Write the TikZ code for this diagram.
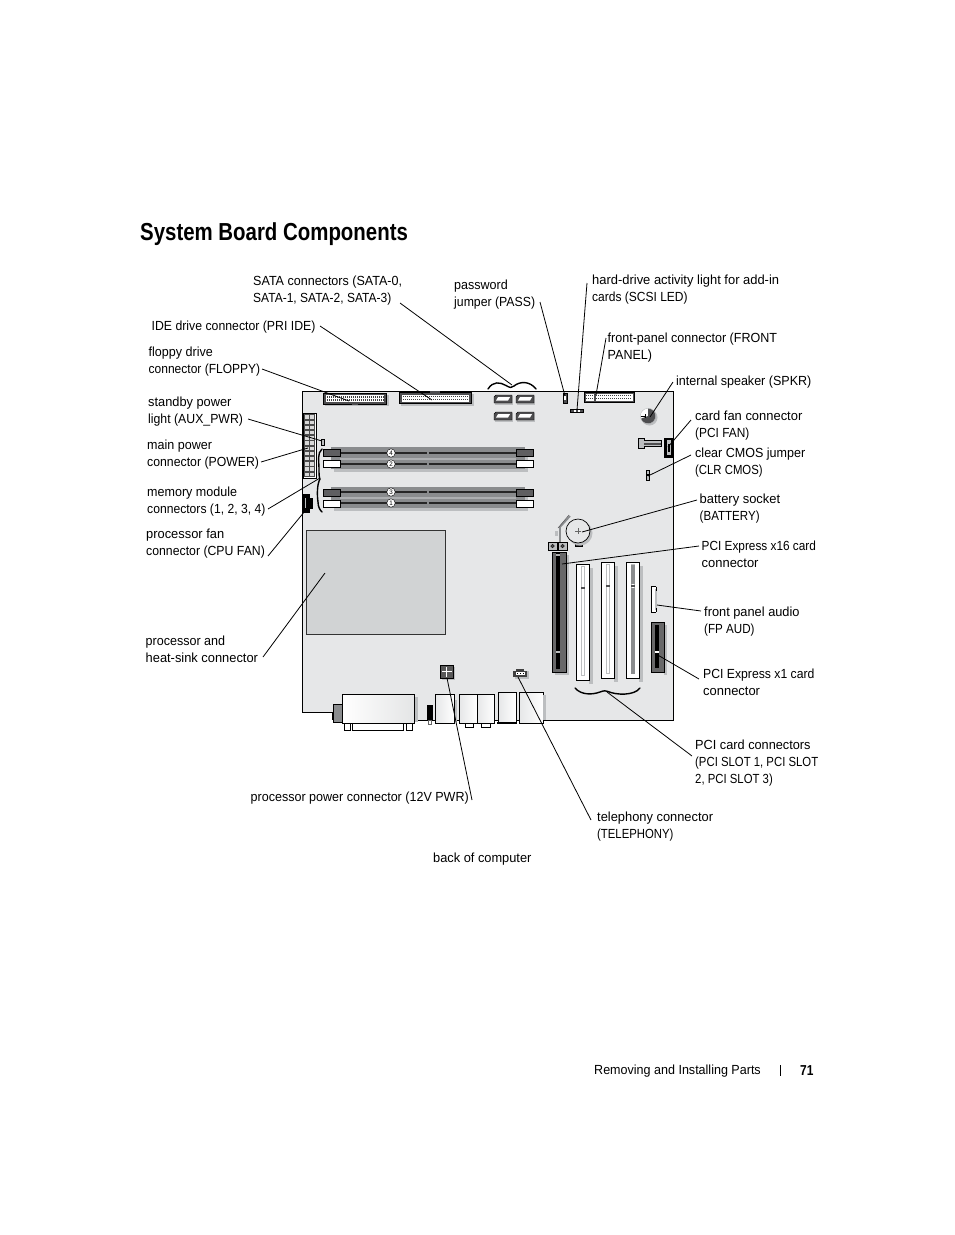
\documentclass[tikz,border=0pt]{standalone}
\usepackage{fontspec}
\setmainfont{Liberation Sans}[FakeStretch=0.95]
\newfontfamily\titlefont{Liberation Sans}[FakeStretch=0.83]
\newcommand\st[1]{\fontspec{Liberation Sans}[FakeStretch=#1]}
\usetikzlibrary{shadings}
\definecolor{board}{HTML}{E6E7E8}
\definecolor{cpu}{HTML}{D1D3D4}
\definecolor{shad}{HTML}{BCBEC0}
\definecolor{dimm}{HTML}{8A8C8E}
\definecolor{dark}{HTML}{4D4D4F}
\tikzset{
  lbl/.style={inner sep=0pt,anchor=west,align=left,font=\fontsize{13.2}{16.9}\selectfont},
  lead/.style={draw=black,line width=0.8pt},
  edge/.style={draw=black,line width=0.8pt},
  part/.style={draw=black,line width=0.6pt},
  whitepart/.style={draw=black,line width=0.7pt,fill=white},
  curly/.style={draw=black,line width=1.4pt,line cap=round},
}
\begin{document}
\begin{tikzpicture}[x=1pt,y=-1pt]
\useasboundingbox (0,0) rectangle (954,1235);
\fill[white] (0,0) rectangle (954,1235);
% title and footer
\node[inner sep=0pt,anchor=base west,font=\titlefont\fontsize{24.6}{28}\bfseries\selectfont] (title) at (140,240) {System Board Components};
\node[inner sep=0pt,anchor=base west,font=\fontsize{13.2}{15}\selectfont] (foot) at (594,1074.5) {Removing and Installing Parts};
\node[inner sep=0pt,anchor=base west,font=\titlefont\fontsize{14.4}{15}\bfseries\selectfont] (page) at (800,1075) {71};
\coordinate (barA) at (780,1065);
\coordinate (barB) at (780,1076);
\draw[line width=0.6pt] (barA) -- (barB);
% board
\filldraw[edge,fill=board] (302,391) -- (673,391) -- (673,720) -- (342,720) -- (342,712) -- (302,712) -- cycle;
% floppy and IDE
\fill[shad] (325,395) rectangle (389,406);
\filldraw[part,fill=dark] (323.5,393) rectangle (386.5,404);
\fill[white] (326,395) rectangle (384,402);
\foreach \i in {0,...,28} {\fill[black!75] (326.5+2*\i,396) rectangle +(1.2,1.8); \fill[black!75] (326.5+2*\i,399) rectangle +(1.2,1.8);}
\fill[dark] (352,402) rectangle (358,405);
\fill[shad] (401,394) rectangle (474,406);
\filldraw[part,fill=dark] (399.5,392.5) rectangle (471.5,403.5);
\fill[white] (402,395) rectangle (469,401.5);
\foreach \i in {0,...,32} {\fill[black!75] (402.5+2*\i,395.5) rectangle +(1.2,1.8); \fill[black!75] (402.5+2*\i,398.5) rectangle +(1.2,1.8);}
\fill[dark] (430,391) rectangle (440,393);
% SATA
\foreach \x/\y in {494/395,516/395,494/412,516/412} {
  \fill[shad] (\x+1,\y+1) rectangle (\x+19,\y+9.5);
  \filldraw[part,fill=dark,line width=0.4pt] (\x+2,\y) -- (\x+18,\y) -- (\x+18,\y+8) -- (\x,\y+8) -- (\x,\y+2) -- cycle;
  \fill[white] (\x+4,\y+2.2) -- (\x+16,\y+2.2) -- (\x+14,\y+5.5) -- (\x+2,\y+5.5) -- cycle;
}
% curly brace top
\draw[curly] (488,389) .. controls (493,381) and (500,382) .. (506,385.5) .. controls (510,388) and (512,388) .. (514,386) .. controls (520,381) and (530,381) .. (536,389);
% small parts top
\filldraw[part,fill=dark] (563,393) rectangle (567,403);
\fill[white] (564.3,396) rectangle (565.8,400);
\filldraw[part,fill=dark] (570.5,409) rectangle (583,412.5);
\fill[white] (574,409.8) rectangle (575.5,411.7);
\fill[white] (578,409.8) rectangle (579.5,411.7);
% front panel
\filldraw[part,fill=dark] (584,392.5) rectangle (634,402);
\fill[white] (585.5,394) rectangle (594,400.5);
\fill[white] (595.5,394) rectangle (632.5,400.5);
\foreach \i in {0,...,3} {\fill[black!75] (586+2*\i,394.5) rectangle +(1.1,1.8); \fill[black!75] (586+2*\i,397.5) rectangle +(1.1,1.8);}
\foreach \i in {0,...,17} {\fill[black!75] (596+2*\i,394.5) rectangle +(1.1,1.8); \fill[black!75] (596+2*\i,397.5) rectangle +(1.1,1.8);}
% speaker
\fill[shad] (649.5,417.5) circle (8);
\begin{scope}
  \clip (648,416) circle (7.7);
  \fill[dark] (648,408) rectangle (656,424);
  \fill[white] (640,408) rectangle (648,424);
  \fill[dark] (640,419) -- (648,416) -- (648,424) -- (640,424) -- cycle;
\end{scope}
\draw[line width=0.4pt,shad] (648,416) circle (7.7);
\draw[line width=0.5pt] (640.5,416) -- (645,416) (645,414) -- (645,418);
% card fan
\filldraw[part,fill=shad] (638.5,438) -- (644,438) -- (644,440.5) -- (661,440.5) -- (661,446.5) -- (644,446.5) -- (644,448) -- (638.5,448) -- cycle;
\fill[dark] (644,443) rectangle (660.5,445);
\filldraw[part,fill=black] (664,438) rectangle (673,457);
\fill[shad] (667,440) rectangle (671,455);
\fill[black] (668,444) rectangle (670,452);
% clear CMOS
\filldraw[part,fill=shad] (646,470) rectangle (649,480);
\fill[black] (646,474) rectangle (649,476);
% battery
\draw[line width=1.8pt,dimm] (560,542) -- (560,527) -- (570,516);
\draw[line width=0.5pt,dark] (558,528) -- (569,515);
\fill[shad] (555,531) rectangle (558,536);
\filldraw[part,fill=dark] (575,541) rectangle (582,546);
\fill[shad] (580,533) circle (12.5);
\filldraw[draw=black,line width=0.7pt,fill=board] (578,531) circle (12);
\draw[line width=0.3pt,black!60] (575,531) -- (581,531) (578,528) -- (578,534);
% latches
\filldraw[part,fill=shad] (548,542) rectangle (557,550);
\filldraw[part,fill=shad] (558,542) rectangle (567,550);
\filldraw[part,fill=dark,line width=0.3pt] (552.5,546) circle (1.8);
\filldraw[part,fill=dark,line width=0.3pt] (562.5,546) circle (1.8);
% PCI Express x16
\fill[shad] (555,555) rectangle (569,675);
\filldraw[part,fill=dark!85] (552,552) rectangle (566,672);
\fill[black] (556,553) rectangle (559.5,669);
\fill[shad] (556,651) rectangle (559.5,653);
\fill[white!70!black] (556,554) rectangle (559.5,556);
% PCI slots
\foreach \x/\y in {576/564,601/562,626/562} {
  \fill[shad] (\x+13,\y+4) rectangle (\x+17,\y+120);
  \filldraw[whitepart] (\x,\y) rectangle (\x+13,\y+116);
  \fill[shad] (\x+4.5,\y+2) rectangle (\x+8.5,\y+112);
  \fill[white] (\x+5.5,\y+3) rectangle (\x+7.5,\y+111);
  \fill[dark] (\x+4.5,\y+23) rectangle (\x+8.5,\y+25);
}
\fill[dimm] (630.5,565) rectangle (634.5,584);
\fill[dimm] (630.5,588) rectangle (634.5,674);
% FP audio
\fill[white] (652,587) rectangle (656,612);
\fill[shad] (655,589) rectangle (657,610);
\draw[line width=1.3pt,black] (655.5,586.7) -- (651.8,586.7) -- (651.8,612.3) -- (655.5,612.3);
\draw[line width=1pt,black] (656.5,586.7) -- (656.5,591) (656.5,608) -- (656.5,612.3);
% PCI Express x1
\fill[shad] (664,625) rectangle (667,675);
\filldraw[part,fill=dark!85] (651.5,622) rectangle (664,672);
\fill[black] (655,625) rectangle (658.5,668);
\fill[white] (655,651) rectangle (658.5,653);
% curly brace bottom
\draw[curly] (575,688) .. controls (581,695) and (592,695) .. (600,692) .. controls (604,690.5) and (606,690.5) .. (608,691.5) .. controls (616,695) and (634,696) .. (640,688);
% DIMMs
\fill[shad] (334,450) rectangle (528,472);
\fill[shad] (334,490) rectangle (528,511);
\fill[dimm] (331,447) rectangle (525,469);
\fill[dimm] (331,487) rectangle (525,508);
\fill[shad!70!dimm] (340,458) rectangle (516,460);
\fill[shad!70!dimm] (340,497) rectangle (516,499);
\foreach \y in {453,464,492,503} {
  \draw[line width=1.4pt,black!85] (340,\y) -- (426.5,\y) (428.8,\y) -- (516,\y);
}
\foreach \x/\w in {323.5/16.5,516/17} {
  \filldraw[part,fill=dark!90] (\x,449.5) rectangle +(\w,6.5);
  \filldraw[whitepart] (\x,460.5) rectangle +(\w,6.5);
  \filldraw[part,fill=dark!90] (\x,489.5) rectangle +(\w,6.5);
  \filldraw[whitepart] (\x,500.5) rectangle +(\w,6.5);
}
\foreach \y/\t in {453/4,464/2,492/3,503/1} {
  \node[circle,draw=black,line width=0.4pt,fill=white,inner sep=0pt,minimum size=8.4pt,font=\fontsize{6.5}{7}\selectfont] (mod\t) at (391,\y) {\t};
}
% main power
\filldraw[part,fill=white] (303,413) rectangle (316,478);
\foreach \r in {0,...,11} {
  \filldraw[draw=black!70,line width=0.4pt,fill=white!85!black] (304.5,414.5+5.2*\r) rectangle +(4.5,4.4);
  \filldraw[draw=black!70,line width=0.4pt,fill=white!85!black] (309.5,414.5+5.2*\r) rectangle +(4.5,4.4);
}
% aux LED
\filldraw[part,fill=shad] (321.5,439.5) rectangle (323.8,445);
% left curly brace
\draw[curly] (322,449) .. controls (317,453) and (319,462) .. (319,468) .. controls (319,474) and (319,477) .. (320,479) .. controls (317,484) and (317,495) .. (318,502) .. controls (318,507) and (320,510) .. (322,512);
% CPU fan
\filldraw[part,fill=black] (303,494) -- (309,494) -- (309,498) -- (312,498) -- (312,508) -- (309,508) -- (309,512) -- (303,512) -- cycle;
\fill[shad] (304.5,498) rectangle (306,508);
% processor
\filldraw[draw=black!80,line width=0.7pt,fill=cpu] (306,530.5) rectangle (445,634);
% back panel
\fill[shad] (414,697) rectangle (418,722);
\filldraw[part,fill=dimm] (333.5,704) rectangle (342,722);
\fill[black] (332,713) rectangle (333.5,720);
\filldraw[whitepart,left color=white,right color=white!60!shad] (342,694) rectangle (414,723);
\filldraw[whitepart] (344.5,723) rectangle (350.5,730);
\filldraw[whitepart] (406,723) rectangle (412.5,730);
\filldraw[whitepart] (352.5,723) rectangle (403.5,730);
\fill[black] (427,705) rectangle (433,720);
\filldraw[draw=black!60,line width=0.4pt,fill=white] (428.5,720) rectangle (431.5,724);
\fill[shad] (454,700) rectangle (457,722);
\filldraw[whitepart,left color=board,right color=white] (435.5,694) rectangle (454,723);
\filldraw[whitepart] (465,723) rectangle (473,727);
\filldraw[whitepart] (481,723) rectangle (490,727);
\filldraw[whitepart,left color=board,right color=white] (459.5,694) rectangle (477,723);
\filldraw[whitepart,left color=board,right color=white] (477,694) rectangle (494.5,723);
\filldraw[whitepart,left color=board,right color=white] (498.5,692.5) rectangle (516,723);
\fill[black] (497,722) rectangle (517,723.5);
\filldraw[whitepart,left color=board,right color=white] (519,692.5) rectangle (543,723);
\fill[shad] (543,695) rectangle (546,720);
% 12V and telephony
\fill[shad] (442,667) rectangle (455,680);
\filldraw[part,fill=black!65] (440,665) rectangle (453,678);
\fill[white] (441.5,671) rectangle (451.5,672);
\fill[white] (446,666.5) rectangle (447,676.5);
\fill[shad] (515,671) rectangle (529,679);
\fill[black!75] (513,671) rectangle (527,677);
\fill[black!75] (516,669) rectangle (524,671);
\fill[white] (516,672) rectangle (525,675);
\foreach \i in {0,1,2} {\fill[black] (517+3*\i,672.5) rectangle +(1.2,1.5);}
% labels
\node[lbl] (lSata) at (253,290.5) {SATA connectors (SATA-0,\\\st{.91}SATA-1, SATA-2, SATA-3)};
\node[lbl] (lPass) at (454,295) {password\\\st{.93}jumper (PASS)};
\node[lbl] (lScsi) at (592,290) {\st{.98}hard-drive activity light for add-in\\\st{.91}cards (SCSI LED)};
\node[lbl] (lFront) at (607.5,348) {front-panel connector (FRONT\\PANEL)};
\node[lbl] (lIde) at (151.5,327) {\st{.93}IDE drive connector (PRI IDE)};
\node[lbl] (lFloppy) at (148.5,362) {floppy drive\\\st{.91}connector (FLOPPY)};
\node[lbl] (lSpkr) at (676,382) {internal speaker (SPKR)};
\node[lbl] (lAux) at (148,412) {\st{.97}standby power\\\st{.93}light (AUX\_PWR)};
\node[lbl] (lFan) at (695,425.5) {\st{.98}card fan connector\\\st{.90}(PCI FAN)};
\node[lbl] (lPower) at (147,455) {main power\\\st{.93}connector (POWER)};
\node[lbl] (lCmos) at (695,462.5) {clear CMOS jumper\\\st{.86}(CLR CMOS)};
\node[lbl] (lMem) at (147,502) {memory module\\\st{.92}connectors (1, 2, 3, 4)};
\node[lbl] (lBatt) at (699.5,509) {\st{.98}battery socket\\\st{.875}(BATTERY)};
\node[lbl] (lCpuFan) at (146,544) {\st{.975}processor fan\\\st{.93}connector (CPU FAN)};
\node[lbl] (lX16) at (701.5,554) {\st{.895}PCI Express x16 card\\\st{.98}connector};
\node[lbl] (lAudio) at (704,621.5) {\st{.97}front panel audio\\\st{.88}(FP AUD)};
\node[lbl] (lProc) at (145.5,649) {processor and\\\st{.975}heat-sink connector};
\node[lbl] (lX1) at (703,682) {\st{.925}PCI Express x1 card\\\st{.98}connector};
\node[lbl] (lSlots) at (695,763) {\st{.965}PCI card connectors\\\st{.86}(PCI SLOT 1, PCI SLOT\\\st{.86}2, PCI SLOT 3)};
\node[lbl] (l12v) at (250.5,798) {processor power connector (12V PWR)};
\node[lbl] (lTel) at (597,827) {\st{.975}telephony connector\\\st{.86}(TELEPHONY)};
\node[lbl] (lBack) at (433,859) {\st{.97}back of computer};
% connector ends
\foreach \n/\ax/\ay/\bx/\by in {
  Sata/400/303/512/385, Ide/320/326/432/400, Floppy/262/369/349/401,
  Aux/248/419/322/441, Power/261/462/308/448, Mem/268/509/320/478,
  CpuFan/268/556/305/511, Proc/263/657/325/573, Pass/540/302/565/396,
  Scsi/587/283/577/410, Front/606/338/596/395, Spkr/673/382/650/417,
  Fan/691/420/668/447, Cmos/691/455/648/476, Batt/697/500/582/532,
  X16/699/546/562/564, Audio/701/611/657/605, X1/699/679/656/654,
  Slots/692/756/607/692, Twelve/472/800/447/678, Tel/591/820/518/677} {
  \coordinate (a\n) at (\ax,\ay);
  \coordinate (b\n) at (\bx,\by);
  \draw[lead] (a\n) -- (b\n);
}
\end{tikzpicture}
\end{document}
